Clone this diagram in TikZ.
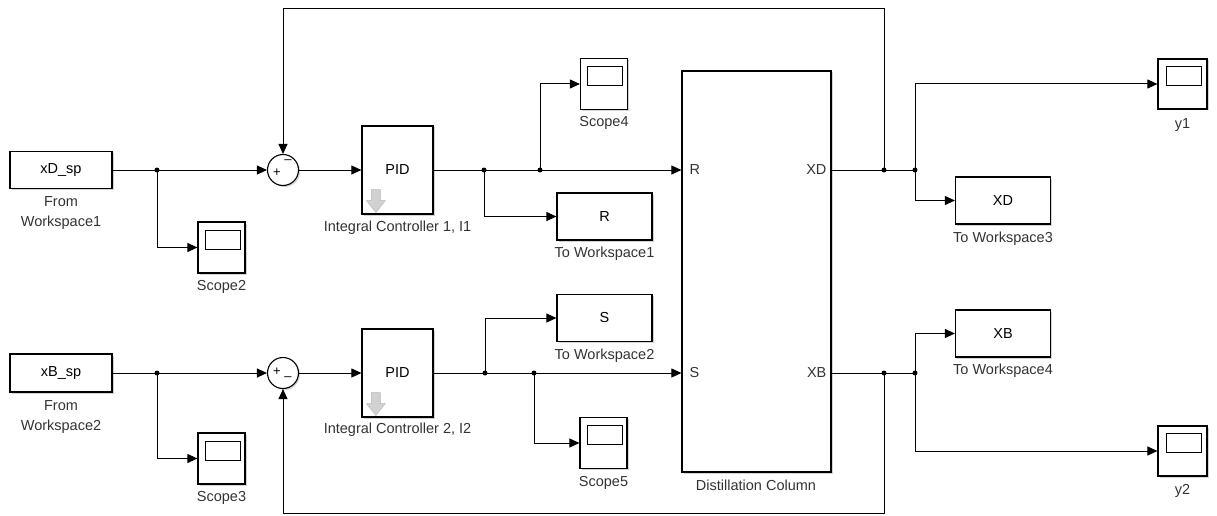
\documentclass[tikz,border=0pt]{standalone}
\usepackage{fontspec}
\setmainfont{Liberation Sans}
\usetikzlibrary{arrows.meta,shadows}
\begin{document}
\begin{tikzpicture}[x=1pt,y=-1pt,
  font=\fontsize{14.5}{20}\selectfont,
  shd/.style={drop shadow={shadow xshift=1.5pt, shadow yshift=-1.5pt, opacity=0.35}},
  blk/.style={draw, line width=1.2pt, fill=white, inner sep=0pt, shd},
  scp/.style={blk, minimum width=47pt, minimum height=51pt},
  wsp/.style={blk, minimum width=95pt, minimum height=47pt},
  sumc/.style={circle, draw, line width=1.1pt, fill=white, minimum size=31pt, inner sep=0pt, shd},
  sig/.style={line width=1pt, -{Triangle[length=10pt,width=9pt]}},
  wire/.style={line width=1pt},
  dot/.style={circle, fill, inner sep=0pt, minimum size=5pt},
  lbl/.style={text=black!80, inner sep=0pt, align=center},
  sgn/.style={inner sep=0pt, font=\fontsize{13}{13}\selectfont},
  screen/.style={line width=1pt}
]
\useasboundingbox (0,0) rectangle (1217,516);

% ---------- blocks ----------
\node[blk, minimum width=102pt, minimum height=37pt] (wsD) at (61,170) {xD\_sp};
\node[blk, minimum width=102pt, minimum height=38pt] (wsB) at (61,373) {xB\_sp};
\node[scp] (sc2) at (221.5,247.5) {};
\node[scp] (sc3) at (221.5,458.5) {};
\node[sumc] (sum1) at (283,170) {};
\node[sumc] (sum2) at (283,373) {};
\node[blk, minimum width=71pt, minimum height=88pt] (pid1) at (397.5,170) {PID};
\node[blk, minimum width=71pt, minimum height=88pt] (pid2) at (397.5,373) {PID};
\node[scp] (sc4) at (604,84) {};
\node[wsp] (tw1) at (604.5,216.5) {R};
\node[wsp] (tw2) at (604.5,318) {S};
\node[scp] (sc5) at (603.5,443) {};
\node[blk, minimum width=149pt, minimum height=401pt] (dc) at (756.5,271.5) {};
\node[wsp] (tw3) at (1003,200.5) {XD};
\node[wsp] (tw4) at (1003,333.5) {XB};
\node[scp, minimum width=49pt, minimum height=50pt] (y1) at (1182.5,84) {};
\node[scp, minimum width=49pt, minimum height=50pt] (y2) at (1182.5,451) {};

% scope screens
\foreach \s in {sc2,sc3,sc4,sc5,y1,y2}
  \draw[screen] ([shift={(-16.5,-17.5)}]\s.center) rectangle ([shift={(18.5,1.5)}]\s.center);

% sum signs
\node[sgn] at (277,173) {+};
\node[sgn] at (288,162) {\textendash};
\node[sgn] at (277,372) {+};
\node[sgn] at (288,379) {\textendash};

% PID grey arrows
\foreach \p in {pid1,pid2}
  \filldraw[fill=black!18, draw=black!28, line width=0.4pt]
    ([shift={(10,-25)}]\p.south west) -- ++(9,0) -- ++(0,11) -- ++(5,0)
    -- ++(-9.5,12) -- ++(-9.5,-12) -- ++(5,0) -- cycle;

% Distillation column port labels
\coordinate (Rin) at (dc.west |- sum1.center);
\coordinate (Sin) at (dc.west |- sum2.center);
\coordinate (XDo) at (dc.east |- sum1.center);
\coordinate (XBo) at (dc.east |- sum2.center);
\node[lbl, anchor=west] at ([xshift=8pt]Rin) {R};
\node[lbl, anchor=west] at ([xshift=8pt]Sin) {S};
\node[lbl, anchor=east] at ([xshift=-5pt]XDo) {XD};
\node[lbl, anchor=east] at ([xshift=-5pt]XBo) {XB};

% ---------- labels ----------
\node[lbl] at (61,213) {From\\Workspace1};
\node[lbl] at (61,417) {From\\Workspace2};
\node[lbl] at (221.5,287) {Scope2};
\node[lbl] at (221.5,498) {Scope3};
\node[lbl] at (397.5,228) {Integral Controller 1, I1};
\node[lbl] at (397.5,430) {Integral Controller 2, I2};
\node[lbl] at (604,123) {Scope4};
\node[lbl] at (604.5,254) {To Workspace1};
\node[lbl] at (604.5,356) {To Workspace2};
\node[lbl] at (603.5,483) {Scope5};
\node[lbl] at (756,485) {Distillation Column};
\node[lbl] at (1003,239) {To Workspace3};
\node[lbl] at (1003,371) {To Workspace4};
\node[lbl] at (1182.5,125) {y1};
\node[lbl] at (1182.5,491) {y2};

% ---------- branch points ----------
\node[dot] (d1) at (157,170) {};
\node[dot] (d2) at (484,170) {};
\node[dot] (d3) at (540,170) {};
\node[dot] (d4) at (884,170) {};
\node[dot] (d5) at (915,170) {};
\node[dot] (d6) at (157,373) {};
\node[dot] (d7) at (485,373) {};
\node[dot] (d8) at (534,373) {};
\node[dot] (d9) at (884,373) {};
\node[dot] (d10) at (915,373) {};

% ---------- connectors: upper loop ----------
\draw[sig] (wsD.east) -- (sum1.west);
\draw[sig] (d1.center) |- (sc2.west);
\draw[sig] (sum1.east) -- (pid1.west);
\draw[sig] (pid1.east) -- (Rin);
\draw[sig] (d2.center) |- (tw1.west);
\draw[sig] (d3.center) |- (sc4.west);
\draw[wire] (XDo) -- (d5.center);
\draw[sig] (d5.center) |- (y1.west);
\draw[sig] (d5.center) |- (tw3.west);
\coordinate (topc) at (d4 |- 0,8.5);
\draw[sig] (d4.center) -- (topc) -| (sum1.north);

% ---------- connectors: lower loop ----------
\draw[sig] (wsB.east) -- (sum2.west);
\draw[sig] (d6.center) |- (sc3.west);
\draw[sig] (sum2.east) -- (pid2.west);
\draw[sig] (pid2.east) -- (Sin);
\draw[sig] (d7.center) |- (tw2.west);
\draw[sig] (d8.center) |- (sc5.west);
\draw[wire] (XBo) -- (d10.center);
\draw[sig] (d10.center) |- (tw4.west);
\draw[sig] (d10.center) |- (y2.west);
\coordinate (botc) at (d9 |- 0,513);
\draw[sig] (d9.center) -- (botc) -| (sum2.south);
\end{tikzpicture}
\end{document}
